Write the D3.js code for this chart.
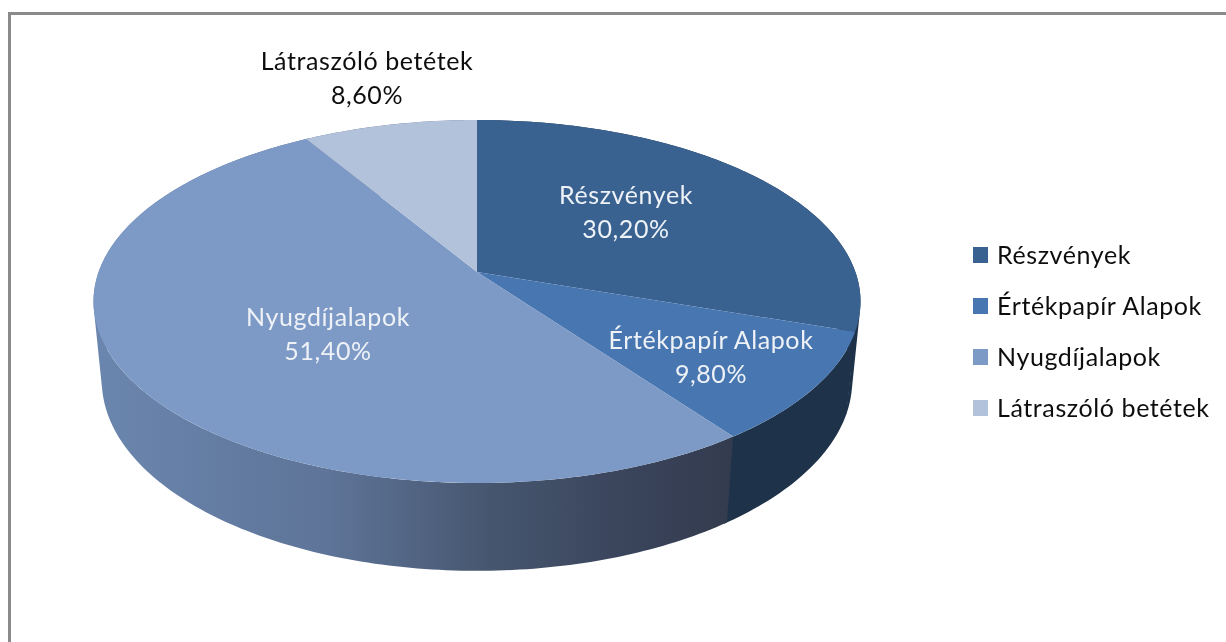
<!DOCTYPE html>
<html>
<head>
<meta charset="utf-8">
<script src="https://cdn.jsdelivr.net/npm/d3@7"></script>
<style>
  html, body { margin: 0; padding: 0; background: #fff; }
  svg { display: block; }
  text { font-family: Lato, sans-serif; }
</style>
</head>
<body>
<div id="chart"></div>
<script>
;(function () {
  // Data
  const categories = ['Részvények', 'Értékpapír Alapok', 'Nyugdíjalapok', 'Látraszóló betétek'];
  const shares = [30.2, 9.8, 51.4, 8.6];
  const shareLabels = ['30,20%', '9,80%', '51,40%', '8,60%'];
  const topColors = ['#3a6291', '#4876b0', '#7d99c6', '#b3c2db'];
  const wallColors = ['#1e3249', '#1e3249', 'url(#wallFade)', '#5f7394'];

  const width = 1226;
  const height = 642;

  const svg = d3.select('#chart').append('svg')
    .attr('width', width)
    .attr('height', height);

  const defs = svg.append('defs');

  // The reference is a slightly soft screenshot
  defs.append('filter').attr('id', 'soft')
    .append('feGaussianBlur').attr('stdDeviation', 0.35);

  // Frame, only the top and left edges are in the picture
  svg.append('path')
    .attr('d', `M9.5 ${height} V13.5 H${width}`)
    .attr('fill', 'none')
    .attr('stroke', '#8a8a8a')
    .attr('stroke-width', 3);

  // Perspective of the tilted disc. depth 0 is the top face, 1 the bottom face
  const cx = 477, cy = 272;
  const spreadX = 378.4, spreadY = 176.7, tilt = 0.1625;
  const sink = 80, shrink = 0.0215;
  function project (angle, depth) {
    const u = Math.sin(angle);
    const v = -Math.cos(angle);
    const w = 1 + shrink * depth - tilt * v;
    return [cx + spreadX * u / w, cy + (spreadY * v + sink * depth) / w];
  }

  const pie = d3.pie().sort(null).value(d => d)(shares);
  const line = d3.line();
  function arcPoints (a0, a1, depth) {
    const n = Math.ceil((a1 - a0) * 60);
    return d3.range(n + 1).map(i => project(a0 + (a1 - a0) * i / n, depth));
  }

  // Wall as a strip of quads so the silhouette gets its straight tangent edge.
  // All quads wound the same way, they would cancel out under nonzero otherwise.
  // Runs a little past its end angle, the next wall paints over that and no seam shows
  function wallPath (d) {
    const upper = arcPoints(d.startAngle, d.endAngle + 0.01, 0);
    const lower = arcPoints(d.startAngle, d.endAngle + 0.01, 1);
    return d3.range(upper.length - 1).map(i => {
      const quad = [upper[i], upper[i + 1], lower[i + 1], lower[i]];
      if (d3.polygonArea(quad) < 0) quad.reverse();
      return line(quad) + 'Z';
    }).join('');
  }

  // Gradient on the long outer wall
  const fade = defs.append('linearGradient')
    .attr('id', 'wallFade')
    .attr('gradientUnits', 'userSpaceOnUse')
    .attr('x1', 93).attr('x2', 733).attr('y1', 0).attr('y2', 0);
  fade.append('stop').attr('offset', 0).attr('stop-color', '#6b86ae');
  fade.append('stop').attr('offset', 0.37).attr('stop-color', '#5e7498');
  fade.append('stop').attr('offset', 0.62).attr('stop-color', '#46566f');
  fade.append('stop').attr('offset', 0.85).attr('stop-color', '#39435a');
  fade.append('stop').attr('offset', 1).attr('stop-color', '#333b4e');

  // Walls first, the top face covers their hidden part
  svg.append('g').selectAll('path')
    .data(pie)
    .enter().append('path')
    .attr('fill', d => wallColors[d.index])
    .attr('d', wallPath);

  svg.append('g').selectAll('path')
    .data(pie)
    .enter().append('path')
    .attr('fill', d => topColors[d.index])
    .attr('d', d => line([[cx, cy]].concat(arcPoints(d.startAngle, d.endAngle, 0))) + 'Z');

  // Data labels
  const labelSpots = [[626, 195], [711, 340], [328, 317], [367, 61]];
  const labelFill = ['#eef2f7', '#eef2f7', '#eef2f7', '#111'];
  const labels = svg.append('g').selectAll('g')
    .data(categories)
    .enter().append('g')
    .attr('transform', (d, i) => `translate(${labelSpots[i][0]} ${labelSpots[i][1]})`)
    .attr('text-anchor', 'middle')
    .attr('font-size', 25)
    .attr('letter-spacing', 0.6)
    .attr('filter', 'url(#soft)')
    .attr('fill', (d, i) => labelFill[i]);
  labels.append('text').attr('y', 9).text(d => d);
  labels.append('text').attr('y', 43).text((d, i) => shareLabels[i]);

  // Legend
  const legendY = d3.scalePoint().domain(categories).range([255, 408]);
  const legend = svg.append('g').selectAll('g')
    .data(categories)
    .enter().append('g')
    .attr('transform', d => `translate(973 ${legendY(d)})`);
  legend.append('rect')
    .attr('y', -8).attr('width', 15).attr('height', 16)
    .attr('fill', (d, i) => topColors[i]);
  legend.append('text')
    .attr('x', 24).attr('y', 9)
    .attr('font-size', 25)
    .attr('letter-spacing', 0.6)
    .attr('filter', 'url(#soft)')
    .attr('fill', '#111')
    .text(d => d);
})();
</script>
</body>
</html>
